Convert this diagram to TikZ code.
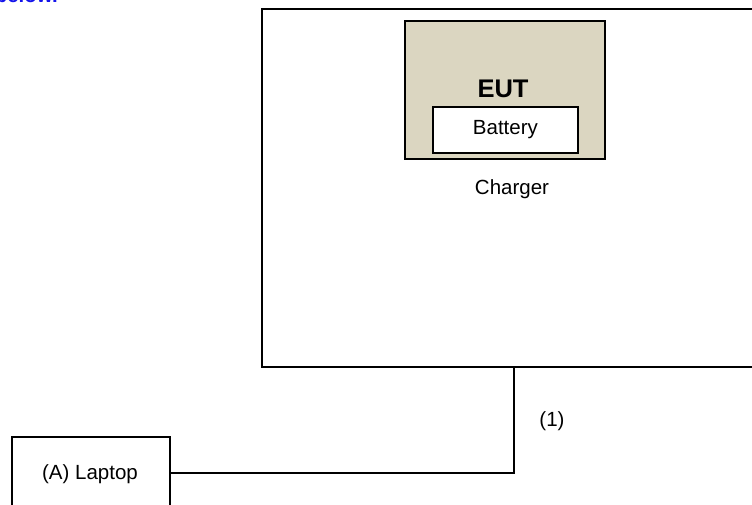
\documentclass[tikz,border=0pt]{standalone}
\usepackage{fontspec}
\setmainfont{Liberation Sans}
\definecolor{eutfill}{RGB}{219,214,193}
\definecolor{linkblue}{RGB}{20,20,235}
\begin{document}
\begin{tikzpicture}[x=1pt,y=-1pt,
  boxline/.style={draw=black,line width=1.8pt},
  txt/.style={font=\fontsize{20.5}{24}\selectfont,inner sep=0pt},
  wire/.style={draw=black,line width=1.6pt}]
\useasboundingbox (0,0) rectangle (752,505);
\clip (0,0) rectangle (752,505);
% clipped caption fragment
\node[anchor=base east,inner sep=0pt,text=linkblue,font=\fontsize{20.5}{24}\selectfont\bfseries] (cap) at (58,3) {below.};
% charger
\node[boxline,anchor=north west,minimum width=520pt,minimum height=358pt,inner sep=0pt] (charger) at (261,8) {};
% EUT
\node[boxline,fill=eutfill,anchor=north west,minimum width=200pt,minimum height=138pt,inner sep=0pt] (eut) at (404,20) {};
\node[font=\fontsize{25.5}{30}\selectfont\bfseries,inner sep=0pt] (euttxt) at (503,89) {EUT};
\node[boxline,fill=white,anchor=north west,minimum width=145pt,minimum height=46pt,inner sep=0pt] (battery) at (432,106) {};
\node[txt] (batttxt) at (battery.center) {Battery};
\node[txt] (chgtxt) at (512,189) {Charger};
% laptop
\node[boxline,anchor=north west,minimum width=158pt,minimum height=72pt,inner sep=0pt] (laptop) at (11,436) {};
\node[txt] (laptxt) at (90,474) {(A) Laptop};
% connector
\coordinate (jack) at (514,366);
\draw[wire] (laptop.east) -| (jack);
\node[txt] (cable) at (552,421) {(1)};
\end{tikzpicture}
\end{document}
